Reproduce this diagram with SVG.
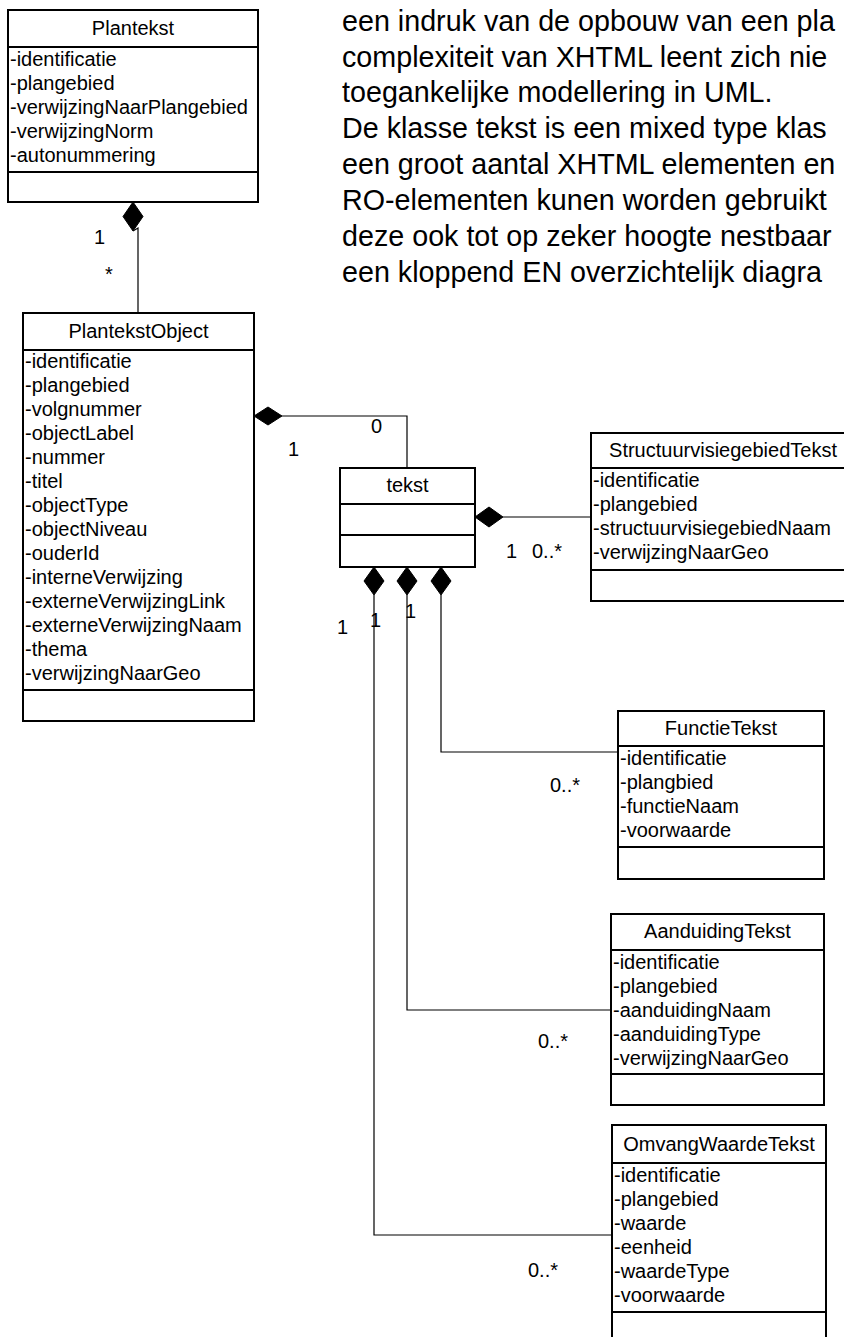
<svg xmlns="http://www.w3.org/2000/svg" width="844" height="1337" viewBox="0 0 844 1337">
<style>
text{font-family:"Liberation Sans",Arial,sans-serif;fill:#000}
.box{fill:#fff;stroke:#000;stroke-width:2}
.sep{stroke:#000;stroke-width:2}
.conn{fill:none;stroke:#000;stroke-width:1.2}
.dia{fill:#000;stroke:#000;stroke-width:1}
.h{font-size:20px;text-anchor:middle}
.a{font-size:20px}
.lbl{font-size:20px}
.para{font-size:28.7px}
</style>
<rect width="844" height="1337" fill="#fff"/>

<g id="note">
<text class="para" x="342" y="31">een indruk van de opbouw van een pla</text>
<text class="para" x="342" y="67">complexiteit van XHTML leent zich nie</text>
<text class="para" x="342" y="102">toegankelijke modellering in UML.</text>
<text class="para" x="342" y="138">De klasse tekst is een mixed type klas</text>
<text class="para" x="342" y="174">een groot aantal XHTML elementen en</text>
<text class="para" x="342" y="210">RO-elementen kunen worden gebruikt</text>
<text class="para" x="342" y="246">deze ook tot op zeker hoogte nestbaar</text>
<text class="para" x="342" y="282">een kloppend EN overzichtelijk diagra</text>
</g>

<g id="connectors">
<polygon class="dia" points="133,202 143,216.5 133,231 123,216.5"/>
<path class="conn" d="M133,231 L138,228 V313"/>
<polygon class="dia" points="254,416 268,407 282,416 268,425"/>
<path class="conn" d="M282,416 H407 V468"/>
<polygon class="dia" points="475,517 489,507 503,517 489,527"/>
<path class="conn" d="M503,517 H591"/>
<polygon class="dia" points="441,567 451,581 441,595 431,581"/>
<path class="conn" d="M441,595 V752 H618"/>
<polygon class="dia" points="407,567 417,581 407,595 397,581"/>
<path class="conn" d="M407,595 V1010 H611"/>
<polygon class="dia" points="374,567 384,581 374,595 364,581"/>
<path class="conn" d="M374,595 V1235 H612"/>
<text class="lbl" x="94" y="244">1</text>
<text class="lbl" x="105" y="281">*</text>
<text class="lbl" x="371" y="433">0</text>
<text class="lbl" x="288" y="456">1</text>
<text class="lbl" x="506" y="558">1</text>
<text class="lbl" x="532" y="558">0..*</text>
<text class="lbl" x="337" y="634">1</text>
<text class="lbl" x="370" y="627">1</text>
<text class="lbl" x="405" y="618">1</text>
<text class="lbl" x="550" y="792">0..*</text>
<text class="lbl" x="538" y="1048">0..*</text>
<text class="lbl" x="528" y="1277">0..*</text>
</g>

<g id="Plantekst">
<rect class="box" x="8" y="10" width="250" height="192"/>
<line class="sep" x1="8" y1="47" x2="258" y2="47"/>
<line class="sep" x1="8" y1="172" x2="258" y2="172"/>
<text class="h" x="133" y="35">Plantekst</text>
<text class="a" x="10" y="66">-identificatie</text>
<text class="a" x="10" y="90">-plangebied</text>
<text class="a" x="10" y="114">-verwijzingNaarPlangebied</text>
<text class="a" x="10" y="138">-verwijzingNorm</text>
<text class="a" x="10" y="162">-autonummering</text>
</g>

<g id="PlantekstObject">
<rect class="box" x="23" y="313" width="231" height="408"/>
<line class="sep" x1="23" y1="350" x2="254" y2="350"/>
<line class="sep" x1="23" y1="690" x2="254" y2="690"/>
<text class="h" x="138.5" y="338">PlantekstObject</text>
<text class="a" x="25" y="368">-identificatie</text>
<text class="a" x="25" y="392">-plangebied</text>
<text class="a" x="25" y="416">-volgnummer</text>
<text class="a" x="25" y="440">-objectLabel</text>
<text class="a" x="25" y="464">-nummer</text>
<text class="a" x="25" y="488">-titel</text>
<text class="a" x="25" y="512">-objectType</text>
<text class="a" x="25" y="536">-objectNiveau</text>
<text class="a" x="25" y="560">-ouderId</text>
<text class="a" x="25" y="584">-interneVerwijzing</text>
<text class="a" x="25" y="608">-externeVerwijzingLink</text>
<text class="a" x="25" y="632">-externeVerwijzingNaam</text>
<text class="a" x="25" y="656">-thema</text>
<text class="a" x="25" y="680">-verwijzingNaarGeo</text>
</g>

<g id="tekst">
<rect class="box" x="340" y="468" width="135" height="99"/>
<line class="sep" x1="340" y1="504" x2="475" y2="504"/>
<line class="sep" x1="340" y1="535" x2="475" y2="535"/>
<text class="h" x="407.5" y="492">tekst</text>
</g>

<g id="StructuurvisiegebiedTekst">
<rect class="box" x="591" y="433" width="264" height="168"/>
<line class="sep" x1="591" y1="468" x2="855" y2="468"/>
<line class="sep" x1="591" y1="570" x2="855" y2="570"/>
<text class="h" x="723" y="457">StructuurvisiegebiedTekst</text>
<text class="a" x="593" y="487">-identificatie</text>
<text class="a" x="593" y="511">-plangebied</text>
<text class="a" x="593" y="535">-structuurvisiegebiedNaam</text>
<text class="a" x="593" y="559">-verwijzingNaarGeo</text>
</g>

<g id="FunctieTekst">
<rect class="box" x="618" y="711" width="206" height="168"/>
<line class="sep" x1="618" y1="746" x2="824" y2="746"/>
<line class="sep" x1="618" y1="847" x2="824" y2="847"/>
<text class="h" x="721" y="735">FunctieTekst</text>
<text class="a" x="620" y="765">-identificatie</text>
<text class="a" x="620" y="789">-plangbied</text>
<text class="a" x="620" y="813">-functieNaam</text>
<text class="a" x="620" y="837">-voorwaarde</text>
</g>

<g id="AanduidingTekst">
<rect class="box" x="611" y="914" width="213" height="191"/>
<line class="sep" x1="611" y1="950" x2="824" y2="950"/>
<line class="sep" x1="611" y1="1074" x2="824" y2="1074"/>
<text class="h" x="717.5" y="938">AanduidingTekst</text>
<text class="a" x="613" y="969">-identificatie</text>
<text class="a" x="613" y="993">-plangebied</text>
<text class="a" x="613" y="1017">-aanduidingNaam</text>
<text class="a" x="613" y="1041">-aanduidingType</text>
<text class="a" x="613" y="1065">-verwijzingNaarGeo</text>
</g>

<g id="OmvangWaardeTekst">
<rect class="box" x="612" y="1125" width="214" height="230"/>
<line class="sep" x1="612" y1="1163" x2="826" y2="1163"/>
<line class="sep" x1="612" y1="1312" x2="826" y2="1312"/>
<text class="h" x="719" y="1151">OmvangWaardeTekst</text>
<text class="a" x="614" y="1182">-identificatie</text>
<text class="a" x="614" y="1206">-plangebied</text>
<text class="a" x="614" y="1230">-waarde</text>
<text class="a" x="614" y="1254">-eenheid</text>
<text class="a" x="614" y="1278">-waardeType</text>
<text class="a" x="614" y="1302">-voorwaarde</text>
</g>
</svg>
